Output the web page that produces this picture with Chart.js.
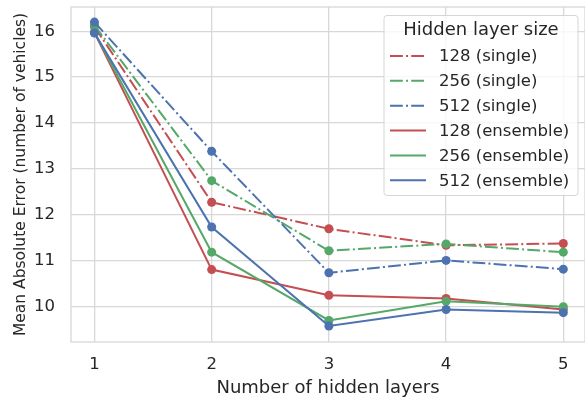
<!DOCTYPE html>
<html>
<head>
<meta charset="utf-8">
<script src="https://cdn.jsdelivr.net/npm/chart.js@4"></script>
<style>
  html, body { margin: 0; padding: 0; background: #ffffff; overflow: hidden; }
  #wrap { width: 585px; height: 399px; position: relative; }
</style>
</head>
<body>
<div id="wrap"><canvas id="c"></canvas></div>
<script>
// ---- data ----
const layers = [1, 2, 3, 4, 5];
const xTickValues = [1, 2, 3, 4, 5];
const yTickValues = [10, 11, 12, 13, 14, 15, 16];
const seriesLabels = ['128 (single)', '256 (single)', '512 (single)', '128 (ensemble)', '256 (ensemble)', '512 (ensemble)'];
const single128 = [16.10, 12.27, 11.69, 11.33, 11.37];
const single256 = [16.13, 12.74, 11.21, 11.36, 11.18];
const single512 = [16.20, 13.38, 10.73, 11.00, 10.81];
const ens128 = [15.97, 10.80, 10.24, 10.17, 9.93];
const ens256 = [15.98, 11.18, 9.69, 10.11, 9.99];
const ens512 = [15.96, 11.73, 9.57, 9.93, 9.86];
const xTitle = 'Number of hidden layers';
const yTitle = 'Mean Absolute Error (number of vehicles)';
const legendTitle = 'Hidden layer size';

// ---- styles ----
const RED = '#C44E52', GREEN = '#55A868', BLUE = '#4C72B0';
const DASHDOT = [12.8, 3.2, 2, 3.2];
const FONT = "'DejaVu Sans', sans-serif";
const TEXT = '#262626';
const GRID = '#d8d8d8';

const allSeries = [single128, single256, single512, ens128, ens256, ens512];
const colors = [RED, GREEN, BLUE, RED, GREEN, BLUE];
const dashes = [DASHDOT, DASHDOT, DASHDOT, [], [], []];

const datasets = allSeries.map((vals, i) => ({
  label: seriesLabels[i],
  data: layers.map((x, j) => ({ x: x, y: vals[j] })),
  borderColor: colors[i],
  backgroundColor: colors[i],
  pointBackgroundColor: colors[i],
  pointBorderColor: colors[i],
  pointRadius: 4.5,
  pointBorderWidth: 0,
  borderWidth: 2,
  borderDash: dashes[i],
  borderCapStyle: 'butt',
  tension: 0,
  fill: false,
  clip: false,
  order: allSeries.length - i
}));

const framePlugin = {
  id: 'frame',
  beforeDatasetsDraw(chart) {
    const { ctx, chartArea: a } = chart;
    ctx.save();
    ctx.strokeStyle = GRID;
    ctx.lineWidth = 1.3;
    ctx.strokeRect(a.left, a.top, a.right - a.left, a.bottom - a.top);
    ctx.restore();
  }
};

const legendPlugin = {
  id: 'customLegend',
  afterDraw(chart) {
    const ctx = chart.ctx;
    const bx = 384, by = 15.5, bw = 194, bh = 180, r = 3;
    ctx.save();
    ctx.beginPath();
    ctx.moveTo(bx + r, by);
    ctx.lineTo(bx + bw - r, by);
    ctx.arcTo(bx + bw, by, bx + bw, by + r, r);
    ctx.lineTo(bx + bw, by + bh - r);
    ctx.arcTo(bx + bw, by + bh, bx + bw - r, by + bh, r);
    ctx.lineTo(bx + r, by + bh);
    ctx.arcTo(bx, by + bh, bx, by + bh - r, r);
    ctx.lineTo(bx, by + r);
    ctx.arcTo(bx, by, bx + r, by, r);
    ctx.closePath();
    ctx.fillStyle = 'rgba(255,255,255,0.8)';
    ctx.fill();
    ctx.strokeStyle = '#d6d6d6';
    ctx.lineWidth = 1;
    ctx.stroke();

    ctx.fillStyle = TEXT;
    ctx.textBaseline = 'middle';
    ctx.textAlign = 'center';
    ctx.font = '18px ' + FONT;
    ctx.fillText(legendTitle, bx + bw / 2, 30);

    ctx.textAlign = 'left';
    ctx.font = '16.5px ' + FONT;
    chart.data.datasets.forEach((ds, i) => {
      const y = 56 + i * 24.85;
      ctx.beginPath();
      ctx.setLineDash(ds.borderDash || []);
      ctx.lineCap = 'butt';
      ctx.strokeStyle = ds.borderColor;
      ctx.lineWidth = 2;
      ctx.moveTo(390, y);
      ctx.lineTo(426, y);
      ctx.stroke();
      ctx.setLineDash([]);
      ctx.fillStyle = TEXT;
      ctx.fillText(ds.label, 439, y + 1);
    });
    ctx.restore();
  }
};

function zeroPad(s) { s.paddingTop = 0; s.paddingBottom = 0; s.paddingLeft = 0; s.paddingRight = 0; }

new Chart(document.getElementById('c'), {
  type: 'line',
  data: { datasets: datasets },
  options: {
    responsive: true,
    maintainAspectRatio: false,
    animation: false,
    devicePixelRatio: 1,
    layout: { autoPadding: false, padding: { top: 7, right: 0, left: 0, bottom: 0 } },
    plugins: {
      legend: { display: false },
      tooltip: { enabled: false }
    },
    scales: {
      x: {
        type: 'linear',
        min: 0.8,
        max: 5.185,
        afterBuildTicks: s => { s.ticks = xTickValues.map(v => ({ value: v })); },
        afterFit: s => { s.height = 57; zeroPad(s); },
        grid: { color: GRID, lineWidth: 1.3, drawTicks: false },
        border: { display: false },
        ticks: {
          padding: 13,
          color: TEXT,
          font: { family: FONT, size: 16.5 },
          callback: v => String(v)
        },
        title: {
          display: true,
          text: xTitle,
          color: TEXT,
          font: { family: FONT, size: 18 },
          padding: { top: 0, bottom: 0 }
        }
      },
      y: {
        type: 'linear',
        min: 9.22,
        max: 16.53,
        afterBuildTicks: s => { s.ticks = yTickValues.map(v => ({ value: v })); },
        afterFit: s => { s.width = 71; zeroPad(s); },
        grid: { color: GRID, lineWidth: 1.3, drawTicks: false },
        border: { display: false },
        ticks: {
          padding: 16,
          color: TEXT,
          font: { family: FONT, size: 16.5 },
          callback: v => String(v)
        },
        title: {
          display: true,
          text: yTitle,
          color: TEXT,
          font: { family: FONT, size: 15.5 },
          padding: { top: 12, bottom: 0 }
        }
      }
    }
  },
  plugins: [framePlugin, legendPlugin]
});
</script>
</body>
</html>
